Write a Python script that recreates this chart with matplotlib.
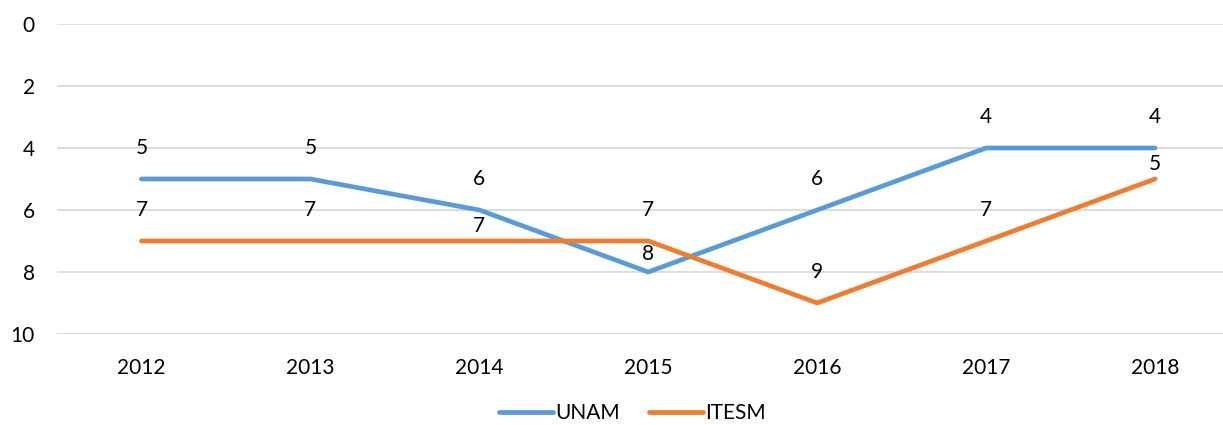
import matplotlib.pyplot as plt

# datos
years = ['2012', '2013', '2014', '2015', '2016', '2017', '2018']
unam = [5, 5, 6, 8, 6, 4, 4]
itesm = [7, 7, 7, 7, 9, 7, 5]

# desplazamiento vertical de etiquetas (pt), como lo acomoda Excel
unam_off = [22, 22, 22, 13, 22, 22, 22]
itesm_off = [22, 22, 11, 22, 22, 22, 11]

plt.rcParams['font.family'] = ['Lato', 'DejaVu Sans']

fig = plt.figure(figsize=(12.23, 4.25), dpi=100)
ax = fig.add_axes([57 / 1223, 1 - 334 / 425, (1239.5 - 57) / 1223, (334 - 24) / 425])

x = range(len(years))
ax.plot(x, unam, color='#5B9BD5', lw=3.4, solid_capstyle='round', label='UNAM', zorder=3)
ax.plot(x, itesm, color='#ED7D31', lw=3.4, solid_capstyle='round', label='ITESM', zorder=3)

for i in x:
    ax.annotate(str(unam[i]), (i, unam[i]), xytext=(0, unam_off[i]), textcoords='offset points',
                ha='center', va='center', fontsize=15, color='black', zorder=4)
    ax.annotate(str(itesm[i]), (i, itesm[i]), xytext=(0, itesm_off[i]), textcoords='offset points',
                ha='center', va='center', fontsize=15, color='black', zorder=4)

ax.set_xlim(-0.5, 6.5)
ax.set_ylim(10, 0)
ax.set_yticks(range(0, 11, 2))
ax.set_xticks(list(x))
ax.set_xticklabels(years)
ax.tick_params(axis='both', length=0, labelsize=15)
ax.tick_params(axis='y', pad=16)
ax.tick_params(axis='x', pad=17)
ax.grid(axis='y', color='#D9D9D9', lw=1.3)
ax.set_axisbelow(True)
for s in ax.spines.values():
    s.set_visible(False)

fig.legend(loc='center', bbox_to_anchor=(0.517, 0.028), ncol=2, frameon=False,
           fontsize=15, handlelength=2.6, columnspacing=1.4, handletextpad=0.1,
           borderpad=0.1)

fig.savefig('out.png', dpi=100)
